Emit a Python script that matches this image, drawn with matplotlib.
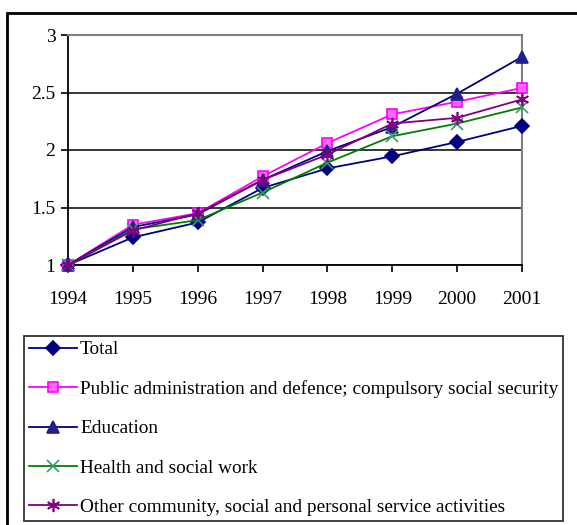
import matplotlib.pyplot as plt
from matplotlib.patches import Rectangle

years = [1994, 1995, 1996, 1997, 1998, 1999, 2000, 2001]

total = [1.00, 1.24, 1.37, 1.67, 1.84, 1.945, 2.07, 2.21]
public_admin = [1.00, 1.35, 1.45, 1.77, 2.06, 2.31, 2.42, 2.54]
education = [1.00, 1.33, 1.44, 1.74, 1.99, 2.20, 2.49, 2.81]
health = [1.00, 1.31, 1.39, 1.63, 1.89, 2.12, 2.23, 2.37]
other = [1.00, 1.30, 1.45, 1.74, 1.96, 2.23, 2.28, 2.44]

labels = [
    "Total",
    "Public administration and defence; compulsory social security",
    "Education",
    "Health and social work",
    "Other community, social and personal service activities",
]

plt.rcParams["font.family"] = ["Liberation Serif", "DejaVu Serif"]

fig = plt.figure(figsize=(5.77, 5.25), dpi=100)
ax = fig.add_axes([68 / 577, 1 - 265 / 525, (522 - 68) / 577, (265 - 35) / 525])

# series styles: (values, line colour, marker, marker face, marker edge, size)
styles = [
    (total, "#000080", "D", "#000080", "#000080", 7),
    (public_admin, "#FF00FF", "s", "#FF66FF", "#FF00FF", 7),
    (education, "#000080", "^", "#1F1F8F", "#1F1F8F", 8.5),
    (health, "#008000", "x", "#339966", "#339966", 8.5),
    (other, "#800080", (6, 2, 0), "#800080", "#800080", 9.5),
]

handles = []
for (vals, col, mk, mfc, mec, ms), lab in zip(styles, labels):
    h, = ax.plot(years, vals, color=col, lw=1.3, marker=mk, ms=ms,
                 markerfacecolor=mfc, markeredgecolor=mec, markeredgewidth=1.2,
                 label=lab, clip_on=False, zorder=3)
    handles.append(h)

ax.set_xlim(1994, 2001)
ax.set_ylim(1, 3)
ax.set_yticks([1, 1.5, 2, 2.5, 3])
ax.set_yticklabels(["1", "1.5", "2", "2.5", "3"])
ax.set_xticks(years)
ax.yaxis.grid(True, color="black", lw=1.1)
ax.set_axisbelow(True)

for s in ["top", "right"]:
    ax.spines[s].set_color("#808080")
    ax.spines[s].set_linewidth(1.5)
for s in ["left", "bottom"]:
    ax.spines[s].set_color("black")
    ax.spines[s].set_linewidth(1.3)

ax.tick_params(axis="both", labelsize=14, length=5, width=1.2, direction="out",
               color="black")
ax.tick_params(axis="x", pad=14)
ax.tick_params(axis="y", pad=4)

leg = fig.legend(handles=handles, loc="upper left",
                 bbox_to_anchor=(24 / 577, 1 - 336 / 525), fontsize=13.9,
                 frameon=True, fancybox=False, edgecolor="black",
                 handlelength=2.5, handletextpad=0.15, labelspacing=1.13,
                 borderpad=0.25, borderaxespad=0)
leg.get_frame().set_linewidth(1.3)

# outer chart frame
fig.patches.append(Rectangle((7 / 577, -0.02), 1.1, 1 - 13 / 525 + 0.02,
                             transform=fig.transFigure, fill=False,
                             edgecolor="black", lw=2))

fig.savefig("out.png", dpi=100)
